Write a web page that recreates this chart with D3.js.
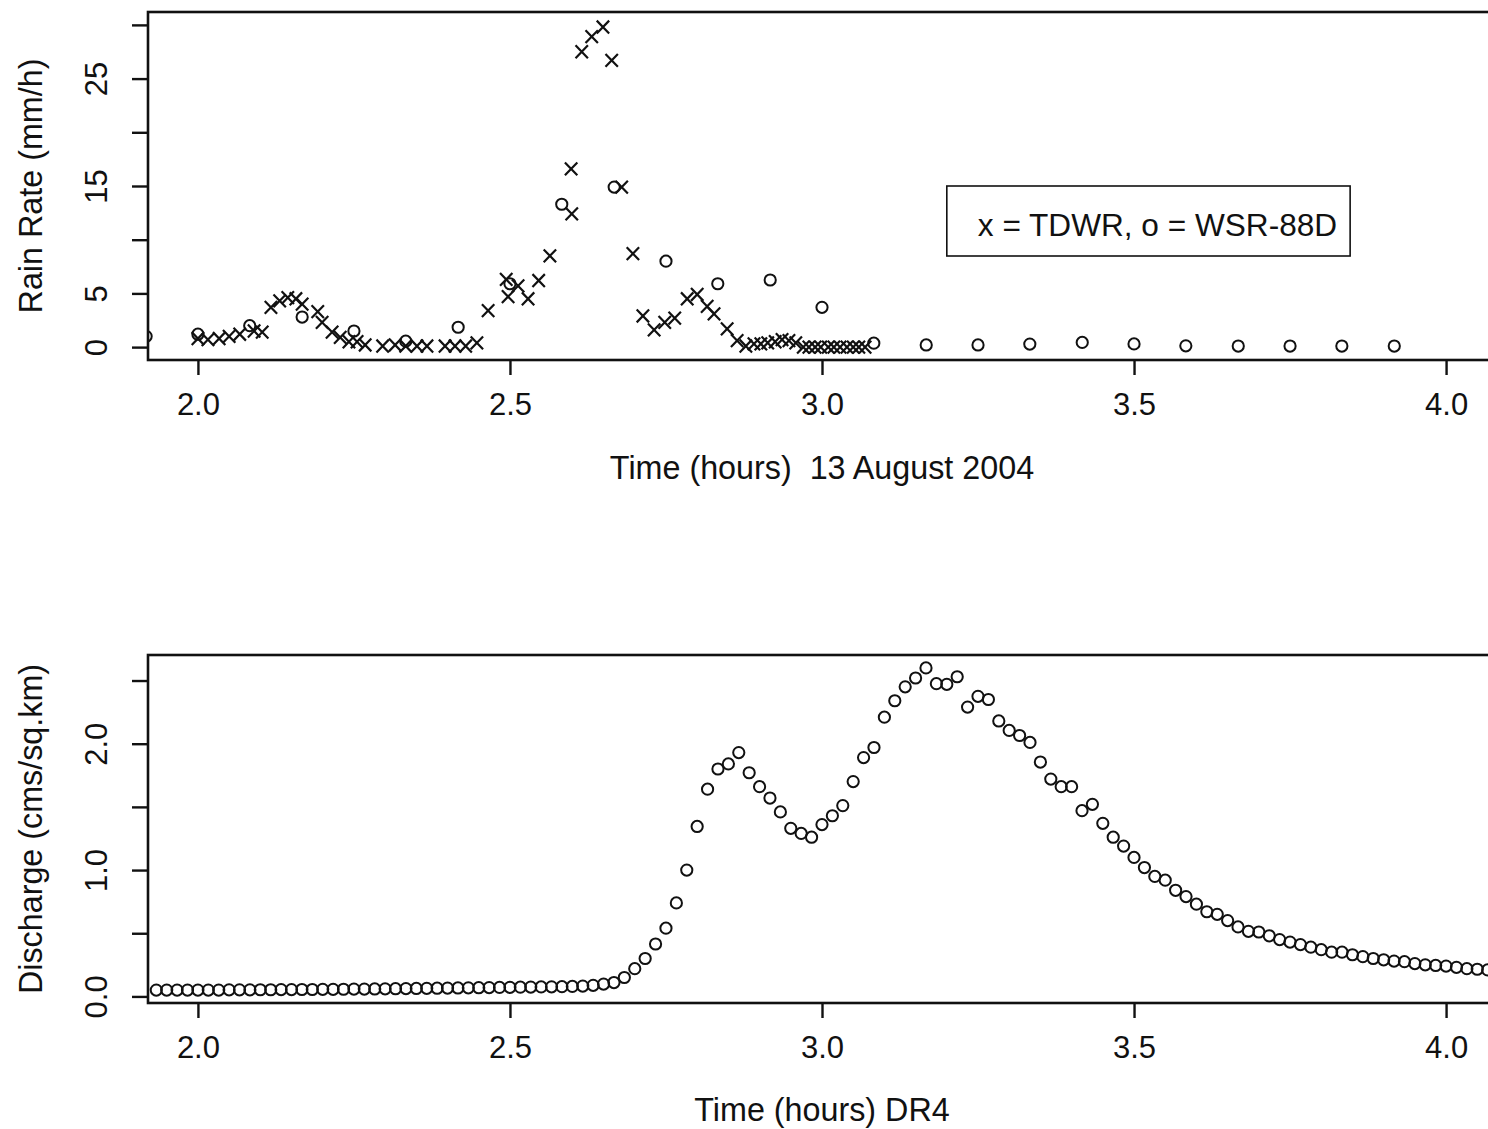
<!DOCTYPE html>
<html>
<head>
<meta charset="utf-8">
<script src="https://cdn.jsdelivr.net/npm/d3@7"></script>
<style>
  html, body { margin: 0; padding: 0; background: #fff; overflow: hidden; }
  svg text { font-family: "Liberation Sans", Arial, Helvetica, sans-serif; fill: #111; }
</style>
</head>
<body>
<svg id="chart" width="1488" height="1129"></svg>
<script>
// ---- Rain rate, 13 August 2004 (hours, mm/h) ----
// TDWR scans (irregular times)
const tdwrTime = [2.000, 2.016, 2.034, 2.050, 2.067, 2.090, 2.103, 2.117, 2.131, 2.144,
  2.157, 2.167, 2.192, 2.199, 2.215, 2.228, 2.242, 2.255, 2.268, 2.296,
  2.316, 2.333, 2.351, 2.367, 2.396, 2.412, 2.429, 2.447, 2.465, 2.494,
  2.497, 2.513, 2.529, 2.546, 2.564, 2.598, 2.599, 2.615, 2.631, 2.649,
  2.663, 2.679, 2.697, 2.713, 2.731, 2.748, 2.764, 2.784, 2.800, 2.816,
  2.827, 2.848, 2.864, 2.878, 2.891, 2.902, 2.913, 2.925, 2.936, 2.947,
  2.958, 2.970, 2.979, 2.989, 2.998, 3.010, 3.019, 3.029, 3.040, 3.050,
  3.059, 3.069];
const tdwrRate = [0.8, 0.7, 0.8, 1.0, 1.2, 1.5, 1.4, 3.7, 4.3, 4.6,
  4.5, 4.0, 3.3, 2.3, 1.4, 0.9, 0.5, 0.5, 0.2, 0.1,
  0.2, 0.1, 0.1, 0.1, 0.1, 0.1, 0.1, 0.4, 3.4, 6.3,
  4.7, 5.7, 4.5, 6.2, 8.5, 16.6, 12.4, 27.5, 28.9, 29.8,
  26.7, 14.9, 8.7, 2.9, 1.6, 2.3, 2.7, 4.5, 4.9, 3.8,
  3.1, 1.7, 0.6, 0.1, 0.3, 0.3, 0.4, 0.5, 0.7, 0.6,
  0.4, 0, 0, 0, 0, 0, 0, 0, 0, 0,
  0, 0];

// WSR-88D volume scans (every 5 minutes)
const wsrTime = [1.917, 2.000, 2.083, 2.167, 2.250, 2.333, 2.417, 2.500, 2.583, 2.667,
  2.750, 2.833, 2.917, 3.000, 3.083, 3.167, 3.250, 3.333, 3.417, 3.500,
  3.583, 3.667, 3.750, 3.833, 3.917];
const wsrRate = [1.0, 1.2, 2.0, 2.8, 1.5, 0.55, 1.85, 5.9, 13.3, 14.9,
  8.0, 5.9, 6.25, 3.7, 0.37, 0.2, 0.2, 0.28, 0.44, 0.3,
  0.12, 0.1, 0.1, 0.1, 0.1];

// ---- Discharge at DR4 (cms/sq.km), one value per minute ----
const dischargeStart = 1.9333;   // hours
const dischargeStep = 1 / 60;    // one minute
const discharge = [
  0.050, 0.050, 0.050, 0.050, 0.050, 0.050, 0.050, 0.052, 0.052, 0.052,
  0.053, 0.053, 0.054, 0.054, 0.055, 0.055, 0.056, 0.056, 0.057, 0.058,
  0.058, 0.059, 0.060, 0.061, 0.062, 0.063, 0.064, 0.065, 0.066, 0.067,
  0.068, 0.069, 0.070, 0.071, 0.072, 0.073, 0.074, 0.075, 0.076, 0.077,
  0.079, 0.082, 0.088,
  0.098, 0.11, 0.15, 0.22, 0.30, 0.415, 0.54, 0.74, 1.00, 1.345,
  1.64, 1.80, 1.84, 1.93, 1.77, 1.66, 1.57, 1.46, 1.33, 1.29,
  1.26, 1.36, 1.43, 1.51, 1.70, 1.89, 1.97, 2.21, 2.34, 2.45,
  2.52, 2.60, 2.475, 2.47, 2.53, 2.29, 2.375, 2.35, 2.18, 2.105,
  2.065, 2.01, 1.855, 1.72, 1.66, 1.66, 1.47, 1.52, 1.37, 1.26,
  1.19, 1.10, 1.02, 0.95, 0.92, 0.84, 0.79, 0.73, 0.67, 0.65,
  0.60, 0.55, 0.515, 0.51, 0.48, 0.45, 0.43, 0.41, 0.39, 0.37,
  0.35, 0.35, 0.33, 0.315, 0.30, 0.29, 0.28, 0.275, 0.26, 0.25,
  0.245, 0.24, 0.23, 0.22, 0.215, 0.21];

// ---- Axis ticks and labels ----
const timeTicks = [2.0, 2.5, 3.0, 3.5, 4.0];
const rateTicks = [0, 5, 10, 15, 20, 25, 30];
const rateLabels = [0, 5, 15, 25];
const dischargeTicks = [0, 0.5, 1.0, 1.5, 2.0, 2.5];
const dischargeLabels = [0, 1.0, 2.0];
const legendText = "x = TDWR, o = WSR-88D";

// ---- Layout ----
const svg = d3.select("#chart");
const plotLeft = 148, plotRight = 1496;
const tickFont = 31;
const titleFont = 32.3;
const legendFont = 31.6;
const ink = "#111";

const x = d3.scaleLinear().domain([1.92, 4.08]).range([plotLeft, plotRight]);

function panel(cfg) {
  const y = d3.scaleLinear().domain(cfg.yDomain).range([cfg.bottom, cfg.top]);
  const g = svg.append("g");

  const clipId = cfg.id + "-clip";
  g.append("clipPath").attr("id", clipId)
    .append("rect")
    .attr("x", plotLeft).attr("y", cfg.top)
    .attr("width", plotRight - plotLeft).attr("height", cfg.bottom - cfg.top);

  // x axis
  const xAxis = d3.axisBottom(x)
    .tickValues(timeTicks)
    .tickSize(15)
    .tickPadding(18)
    .tickFormat(d3.format(".1f"));
  const gx = g.append("g")
    .attr("transform", `translate(0,${cfg.bottom})`)
    .call(xAxis);
  gx.select(".domain").remove();
  gx.selectAll(".tick line").attr("stroke", ink).attr("stroke-width", 2.4);
  gx.selectAll(".tick text")
    .attr("font-size", tickFont)
    .attr("font-family", null)
    .attr("fill", ink);

  // y axis, labels parallel to the axis
  const yAxis = d3.axisLeft(y)
    .tickValues(cfg.yTicks)
    .tickSize(16)
    .tickFormat(d => cfg.yLabels.some(v => Math.abs(v - d) < 1e-9) ? cfg.yFmt(d) : "");
  const gy = g.append("g")
    .attr("transform", `translate(${plotLeft},0)`)
    .call(yAxis);
  gy.select(".domain").remove();
  gy.selectAll(".tick line").attr("stroke", ink).attr("stroke-width", 2.4);
  gy.selectAll(".tick text")
    .attr("font-size", tickFont)
    .attr("font-family", null)
    .attr("fill", ink)
    .attr("x", 0)
    .attr("y", -41)
    .attr("dy", null)
    .attr("text-anchor", "middle")
    .attr("transform", "rotate(-90)");

  // axis titles
  g.append("text")
    .attr("x", (plotLeft + plotRight) / 2)
    .attr("y", cfg.xTitleY)
    .attr("text-anchor", "middle")
    .attr("font-size", titleFont)
    .style("white-space", "pre")
    .text(cfg.xTitle);

  g.append("text")
    .attr("transform", `translate(42,${(cfg.top + cfg.bottom) / 2}) rotate(-90)`)
    .attr("text-anchor", "middle")
    .attr("font-size", titleFont)
    .text(cfg.yTitle);

  const marks = g.append("g").attr("clip-path", `url(#${clipId})`);

  // frame
  g.append("rect")
    .attr("x", plotLeft).attr("y", cfg.top)
    .attr("width", plotRight - plotLeft).attr("height", cfg.bottom - cfg.top)
    .attr("fill", "none")
    .attr("stroke", ink)
    .attr("stroke-width", 2.6);

  return { g, y, marks };
}

function drawCircles(layer, data, xs, ys) {
  layer.append("g")
    .selectAll("circle")
    .data(data)
    .join("circle")
    .attr("cx", d => xs(d[0]))
    .attr("cy", d => ys(d[1]))
    .attr("r", 5.6)
    .attr("fill", "none")
    .attr("stroke", ink)
    .attr("stroke-width", 2);
}

// cross marker shaped like a lower-case x
const crossPath = (() => {
  const p = d3.path();
  const w = 6.2, h = 6.4;
  p.moveTo(-w, -h); p.lineTo(w, h);
  p.moveTo(-w, h); p.lineTo(w, -h);
  return p.toString();
})();

function drawCrosses(layer, data, xs, ys) {
  layer.append("g")
    .selectAll("path")
    .data(data)
    .join("path")
    .attr("transform", d => `translate(${xs(d[0])},${ys(d[1])})`)
    .attr("d", crossPath)
    .attr("fill", "none")
    .attr("stroke", ink)
    .attr("stroke-width", 2.2);
}

// ---- Top panel: rain rate ----
const rainPanel = panel({
  id: "rain",
  top: 12, bottom: 360,
  yDomain: [-1.2, 31.2],
  yTicks: rateTicks, yLabels: rateLabels, yFmt: d3.format("d"),
  xTitle: "Time (hours)  13 August 2004", xTitleY: 479,
  yTitle: "Rain Rate (mm/h)"
});

drawCrosses(rainPanel.marks, d3.zip(tdwrTime, tdwrRate), x, rainPanel.y);
drawCircles(rainPanel.marks, d3.zip(wsrTime, wsrRate), x, rainPanel.y);

// legend anchored at its top-left corner in data coordinates
const legend = rainPanel.g.append("g")
  .attr("transform", `translate(${x(3.2)},${rainPanel.y(15)})`);
const legendRect = legend.append("rect")
  .attr("fill", "#fff")
  .attr("stroke", ink)
  .attr("stroke-width", 1.6)
  .attr("height", 70);
const legendLabel = legend.append("text")
  .attr("x", 31)
  .attr("y", 50)
  .attr("font-size", legendFont)
  .text(legendText);
legendRect.attr("width", legendLabel.node().getComputedTextLength() + 44);

// ---- Bottom panel: discharge ----
const flowPanel = panel({
  id: "flow",
  top: 655, bottom: 1003,
  yDomain: [-0.052, 2.702],
  yTicks: dischargeTicks, yLabels: dischargeLabels, yFmt: d3.format(".1f"),
  xTitle: "Time (hours) DR4", xTitleY: 1121,
  yTitle: "Discharge (cms/sq.km)"
});

drawCircles(flowPanel.marks,
  discharge.map((v, i) => [dischargeStart + i * dischargeStep, v]),
  x, flowPanel.y);
</script>
</body>
</html>
